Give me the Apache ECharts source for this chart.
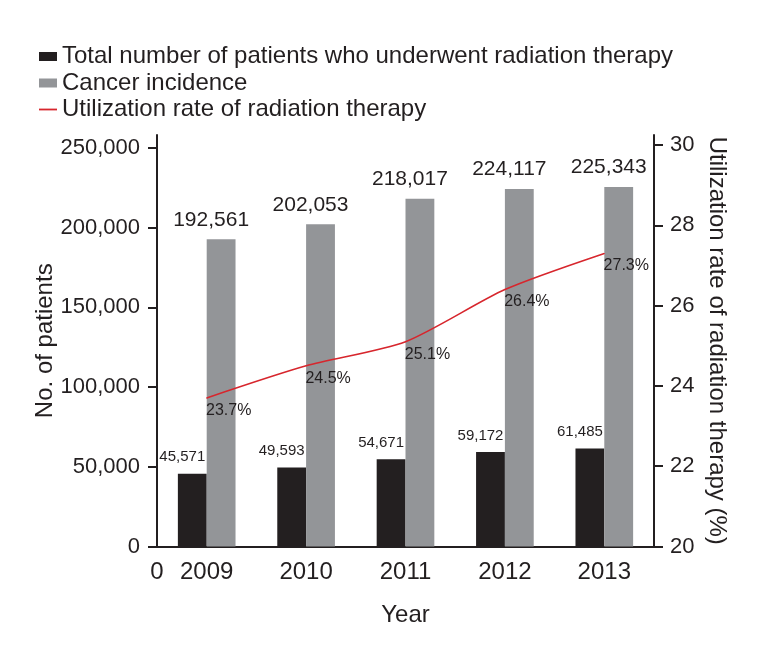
<!DOCTYPE html>
<html>
<head>
<meta charset="utf-8">
<title>Radiation therapy utilization</title>
<script src="https://cdn.jsdelivr.net/npm/echarts@6/dist/echarts.min.js"></script>
<style>
  html, body { margin: 0; padding: 0; background: #fff; }
  #chart { width: 776px; height: 652px; }
</style>
</head>
<body>
<div id="chart"></div>
<script>
// 数据
var years = ['2009', '2010', '2011', '2012', '2013'];
var treated = [45571, 49593, 54671, 59172, 61485];
var incidence = [192561, 202053, 218017, 224117, 225343];
var rate = [23.7, 24.5, 25.1, 26.4, 27.3];

var seriesNames = [
  'Total number of patients who underwent radiation therapy',
  'Cancer incidence',
  'Utilization rate of radiation therapy'
];

var ink = '#231f20';
var font = '"Liberation Sans", Arial, sans-serif';

function fmtThousands (v) {
  return String(v).replace(/\B(?=(\d{3})+(?!\d))/g, ',');
}

var chart = echarts.init(document.getElementById('chart'));

var option = {
  animation: false,
  textStyle: { fontFamily: font, color: ink },
  legend: {
    orient: 'vertical',
    left: 34,
    top: 39,
    itemWidth: 18,
    itemHeight: 9,
    itemGap: 1.5,
    textStyle: { fontSize: 24, color: ink, lineHeight: 25, fontFamily: font },
    data: [
      { name: seriesNames[0], icon: 'rect' },
      { name: seriesNames[1], icon: 'rect' },
      { name: seriesNames[2], icon: 'path://M0,0H20V2H0Z' }
    ]
  },
  grid: { left: 157, right: 122, top: 135, bottom: 105.5 },
  xAxis: [
    {
      type: 'category',
      data: years,
      position: 'bottom',
      name: 'Year',
      nameLocation: 'middle',
      nameGap: 57,
      nameTextStyle: { fontSize: 24, color: ink },
      axisLine: { lineStyle: { color: ink, width: 2 } },
      axisTick: { length: 9, lineStyle: { color: ink, width: 2 } },
      axisLabel: { fontSize: 24, color: ink, margin: 14 }
    },
    {
      // 只用来显示原点的 "0"
      type: 'value',
      position: 'bottom',
      min: 0,
      max: 5,
      interval: 1,
      axisLine: { show: false },
      axisTick: { show: false },
      splitLine: { show: false },
      axisLabel: {
        fontSize: 24,
        color: ink,
        margin: 14,
        formatter: function (v) { return v === 0 ? '0' : ''; }
      }
    }
  ],
  yAxis: [
    {
      type: 'value',
      position: 'left',
      min: 0,
      max: 258000,
      interval: 50000,
      name: 'No. of patients',
      nameLocation: 'middle',
      nameGap: 100,
      nameMoveOverlap: false,
      nameTextStyle: { fontSize: 24, color: ink },
      splitLine: { show: false },
      axisLine: { show: true, lineStyle: { color: ink, width: 2 } },
      axisTick: { show: true, length: 9, lineStyle: { color: ink, width: 2 } },
      axisLabel: {
        fontSize: 22,
        color: ink,
        margin: 17,
        showMaxLabel: false,
        formatter: function (v) { return v % 50000 === 0 ? fmtThousands(v) : ''; }
      }
    },
    {
      type: 'value',
      position: 'right',
      min: 20,
      max: 30.25,
      interval: 2,
      name: 'Utilization rate of radiation therapy (%)',
      nameLocation: 'middle',
      nameRotate: -90,
      nameGap: 51,
      nameMoveOverlap: false,
      nameTextStyle: { fontSize: 24, color: ink },
      splitLine: { show: false },
      axisLine: { show: true, lineStyle: { color: ink, width: 2 } },
      axisTick: { show: true, length: 9, lineStyle: { color: ink, width: 2 } },
      axisLabel: {
        fontSize: 22,
        color: ink,
        margin: 16,
        showMaxLabel: false,
        formatter: function (v) { return v % 2 === 0 ? String(v) : ''; }
      }
    }
  ],
  series: [
    {
      name: seriesNames[0],
      type: 'bar',
      xAxisIndex: 0,
      yAxisIndex: 0,
      data: treated,
      barWidth: '29%',
      barGap: '0%',
      itemStyle: { color: ink },
      label: {
        show: true,
        position: 'top',
        distance: 9,
        offset: [-10, 0],
        fontSize: 15,
        color: ink,
        formatter: function (p) { return fmtThousands(p.value); }
      }
    },
    {
      name: seriesNames[1],
      type: 'bar',
      xAxisIndex: 0,
      yAxisIndex: 0,
      data: incidence,
      barWidth: '29%',
      barGap: '0%',
      itemStyle: { color: '#939598' },
      label: {
        show: true,
        position: 'top',
        distance: 9,
        offset: [-10, 0],
        fontSize: 21,
        color: ink,
        formatter: function (p) { return fmtThousands(p.value); }
      }
    },
    {
      name: seriesNames[2],
      type: 'line',
      xAxisIndex: 0,
      yAxisIndex: 1,
      data: rate,
      smooth: 0.25,
      symbol: 'circle',
      symbolSize: 1,
      itemStyle: { color: '#d7262d' },
      lineStyle: { color: '#d7262d', width: 1.6 },
      label: {
        show: true,
        position: 'bottom',
        distance: 4,
        offset: [22, 0],
        fontSize: 16,
        color: ink,
        formatter: function (p) { return p.value + '%'; }
      },
      z: 5
    }
  ]
};

chart.setOption(option);
</script>
</body>
</html>
